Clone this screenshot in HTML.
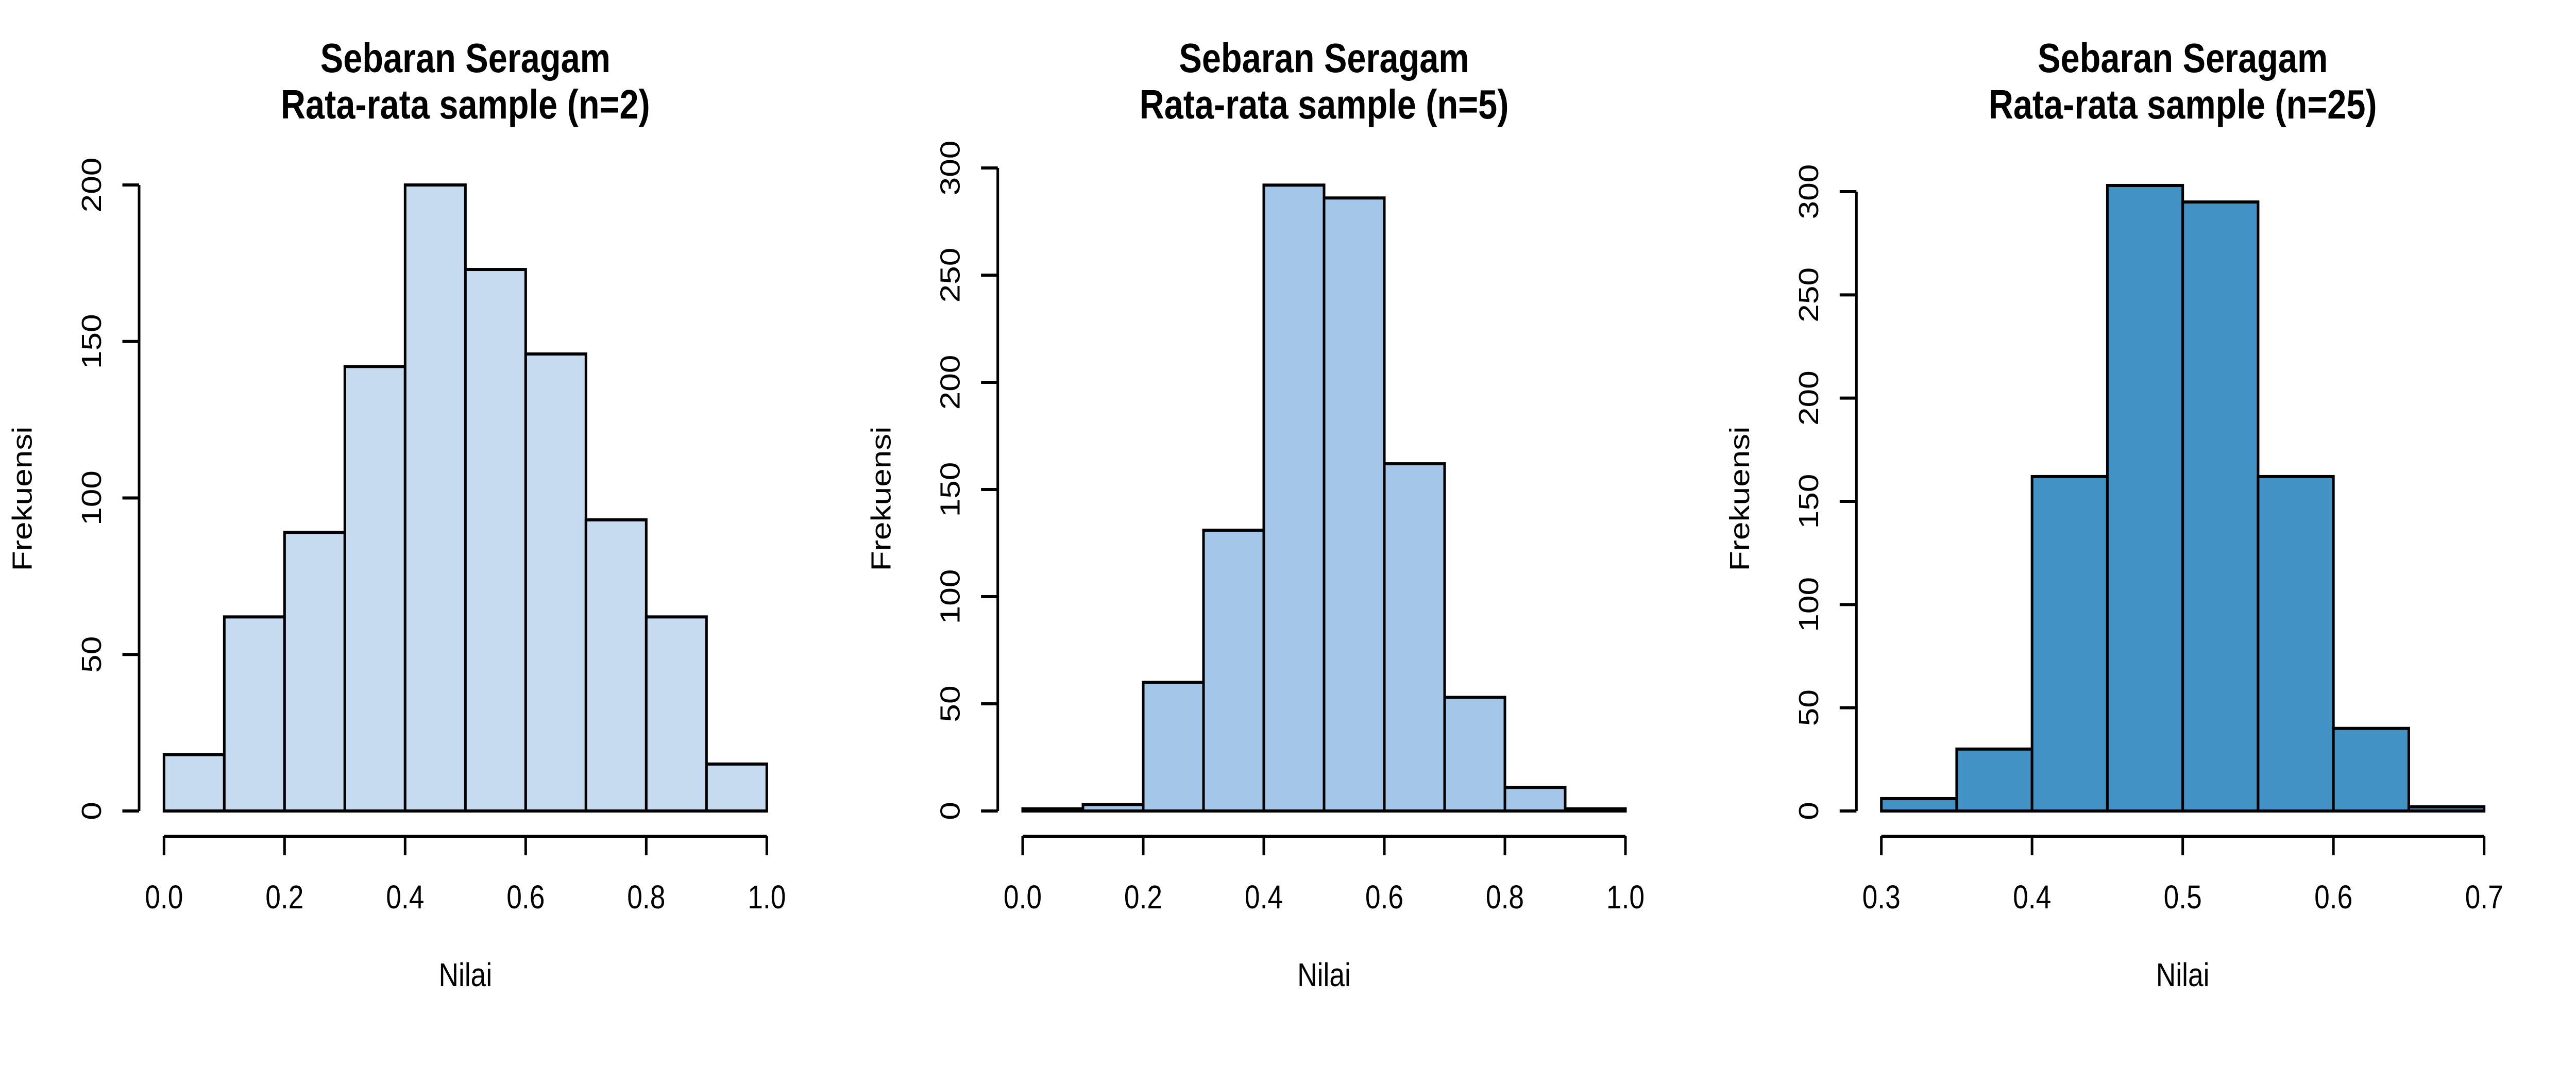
<!DOCTYPE html>
<html><head><meta charset="utf-8"><style>
html,body{margin:0;padding:0;background:#fff;width:100%;height:100%;overflow:hidden;}
svg{display:block;width:100vw;height:100vh;font-family:"Liberation Sans",Arial,sans-serif;}
</style></head><body>
<svg id="chart" viewBox="0 0 6000 2100" preserveAspectRatio="none" xmlns="http://www.w3.org/2000/svg"></svg>
<script>
const p1Breaks = [0,0.1,0.2,0.3,0.4,0.5,0.6,0.7,0.8,0.9,1.0];
const p1Counts = [18,62,89,142,200,173,146,93,62,15];
const p1XTicks = [0,0.2,0.4,0.6,0.8,1.0];
const p1XLabels = ["0.0","0.2","0.4","0.6","0.8","1.0"];
const p1YTicks = [0,50,100,150,200];

const p2Breaks = [0,0.1,0.2,0.3,0.4,0.5,0.6,0.7,0.8,0.9,1.0];
const p2Counts = [1,3,60,131,292,286,162,53,11,1];
const p2XTicks = [0,0.2,0.4,0.6,0.8,1.0];
const p2XLabels = ["0.0","0.2","0.4","0.6","0.8","1.0"];
const p2YTicks = [0,50,100,150,200,250,300];

const p3Breaks = [0.3,0.35,0.4,0.45,0.5,0.55,0.6,0.65,0.7];
const p3Counts = [6,30,162,303,295,162,40,2];
const p3XTicks = [0.3,0.4,0.5,0.6,0.7];
const p3XLabels = ["0.3","0.4","0.5","0.6","0.7"];
const p3YTicks = [0,50,100,150,200,250,300];

const titles = ["Rata-rata sample (n=2)","Rata-rata sample (n=5)","Rata-rata sample (n=25)"];
const fills = ["#c6dbef","#a3c6e9","#4292c6"];

const NS = "http://www.w3.org/2000/svg";
const svg = document.getElementById("chart");
function mk(tag, attrs, parent){
  const e = document.createElementNS(NS, tag);
  for (const k in attrs) e.setAttribute(k, attrs[k]);
  (parent||svg).appendChild(e);
  return e;
}

function panel(idx, off, breaks, counts, xt, xl, yt){
  const g = mk("g", {});
  
  
  const x0 = off + 382, x1 = off + 1786, yB = 1574;
  const xmin = breaks[0], xmax = breaks[breaks.length-1];
  const ymax = yt[yt.length-1];
  const yTopPx = [359, 326, 372][idx];
  const sx = v => x0 + (v - xmin) / (xmax - xmin) * (x1 - x0);
  const sy = v => yB - v / ymax * (yB - yTopPx);
  const cx = (x0 + x1) / 2;

  const t1 = mk("text", {x:cx, y:140, "text-anchor":"middle", "font-size":"80", "font-weight":"bold"}, g);
  t1.textContent = "Sebaran Seragam";
  
  
  const t2 = mk("text", {x:cx, y:230, "text-anchor":"middle", "font-size":"80", "font-weight":"bold"}, g);
  t2.textContent = titles[idx];
  
  

  for (let i = 0; i < counts.length; i++){
    const r = mk("rect", {x:sx(breaks[i]), y:sy(counts[i]), width:sx(breaks[i+1]) - sx(breaks[i]), height:yB - sy(counts[i]), fill:fills[idx], stroke:"#000", "stroke-width":"6"}, g);
    
    
  }

  const xa = mk("g", {}, g);
  
  
  mk("line", {x1:sx(xt[0]), x2:sx(xt[xt.length-1]), y1:1623, y2:1623, stroke:"#000", "stroke-width":"6"}, xa);
  xt.forEach((v, i) => {
    mk("line", {x1:sx(v), x2:sx(v), y1:1623, y2:1660, stroke:"#000", "stroke-width":"6"}, xa);
    const tl = mk("text", {x:sx(v), y:1763, "text-anchor":"middle", "font-size":"64"}, xa);
    tl.textContent = xl[i];
    
    
  });

  const ya = mk("g", {}, g);
  
  
  const ax = off + 324;
  mk("line", {x1:ax, x2:ax, y1:sy(yt[0]), y2:sy(ymax), stroke:"#000", "stroke-width":"6"}, ya);
  yt.forEach(v => {
    mk("line", {x1:ax - 39, x2:ax, y1:sy(v), y2:sy(v), stroke:"#000", "stroke-width":"6"}, ya);
    const tx = off + 235;
    const tl = mk("text", {x:tx, y:sy(v), "text-anchor":"middle", "font-size":"64", transform:"rotate(-90 " + tx + " " + sy(v) + ")"}, ya);
    tl.textContent = String(v);
    
    
  });

  const xl2 = mk("text", {x:cx, y:1914, "text-anchor":"middle", "font-size":"64"}, g);
  xl2.textContent = "Nilai";
  
  
  const yx = off + 74;
  const yl = mk("text", {x:yx, y:968, "text-anchor":"middle", "font-size":"64", transform:"rotate(-90 " + yx + " 968)"}, g);
  yl.textContent = "Frekuensi";
  
  
}

panel(0, 0, p1Breaks, p1Counts, p1XTicks, p1XLabels, p1YTicks);
panel(1, 2000, p2Breaks, p2Counts, p2XTicks, p2XLabels, p2YTicks);
panel(2, 4000, p3Breaks, p3Counts, p3XTicks, p3XLabels, p3YTicks);
</script>
</body></html>
